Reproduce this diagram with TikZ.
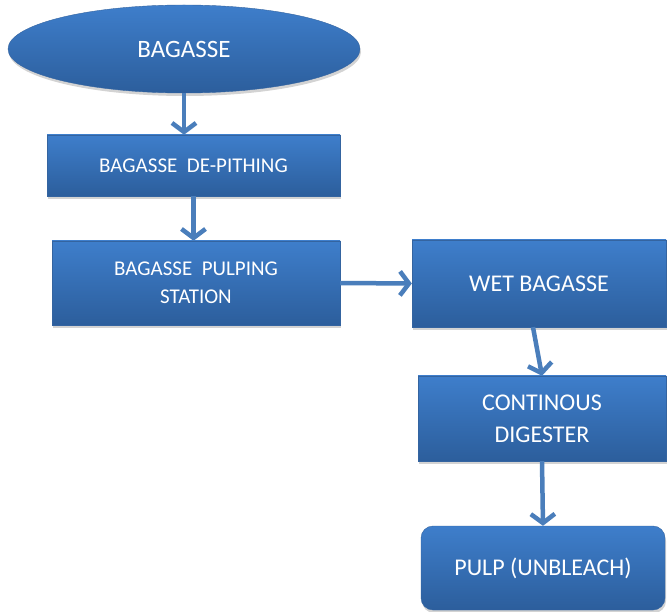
\documentclass[tikz,border=0pt]{standalone}
\usepackage{fontspec}
\setmainfont{Carlito}
\usetikzlibrary{calc, arrows, positioning, shapes.geometric, shadows}
\usetikzlibrary{arrows.meta}
\definecolor{boxtop}{RGB}{62,126,203}
\definecolor{boxbot}{RGB}{44,94,156}
\definecolor{boxline}{RGB}{52,100,160}
\definecolor{flowblue}{RGB}{74,126,187}

\begin{document}
\begin{tikzpicture}[x=1pt, y=-1pt,
  unit/.style={draw=boxline, thin, top color=boxtop, bottom color=boxbot,
    text=white, align=center, inner sep=0pt,
    drop shadow={shadow xshift=1pt, shadow yshift=-3pt, opacity=.35}},
  flow/.style={draw=flowblue, line width=4.5pt,
    -{Straight Barb[length=9pt, width=24pt, line width=4.5pt]}}]
\useasboundingbox (0,0) rectangle (667,612);
\node[unit, ellipse, minimum width=352pt, minimum height=88pt,
  font=\fontsize{25}{30}\selectfont] (bagasse) at (184,49) {BAGASSE};
\node[unit, minimum width=293pt, minimum height=61pt,
  font=\fontsize{21}{28}\selectfont] (depith) at (193.5,165.5) {BAGASSE\ \ DE-PITHING};
\node[unit, minimum width=288pt, minimum height=84pt,
  font=\fontsize{21}{28}\selectfont] (pulping) at (196,283) {BAGASSE\ \ PULPING\\STATION};
\node[unit, minimum width=254pt, minimum height=87pt,
  font=\fontsize{24}{32}\selectfont] (wet) at (539,283.5) {WET BAGASSE};
\node[unit, minimum width=248pt, minimum height=85pt,
  font=\fontsize{24}{32}\selectfont] (digester) at (542,418.5) {CONTINOUS\\DIGESTER};
\node[unit, rounded corners=12pt, minimum width=244pt, minimum height=84pt,
  font=\fontsize{24}{32}\selectfont] (pulp) at (543,568) {PULP (UNBLEACH)};
% flow of the pulp line
\draw[flow] (bagasse.south) -- (bagasse.south |- depith.north);
\draw[flow] (depith.south) -- (depith.south |- pulping.north);
\draw[flow] (pulping.east) -- (wet.west);
\draw[flow] ([xshift=-6pt]wet.south) -- (digester.north);
\draw[flow] (digester.south) -- (pulp.north);
\end{tikzpicture}
\end{document}
